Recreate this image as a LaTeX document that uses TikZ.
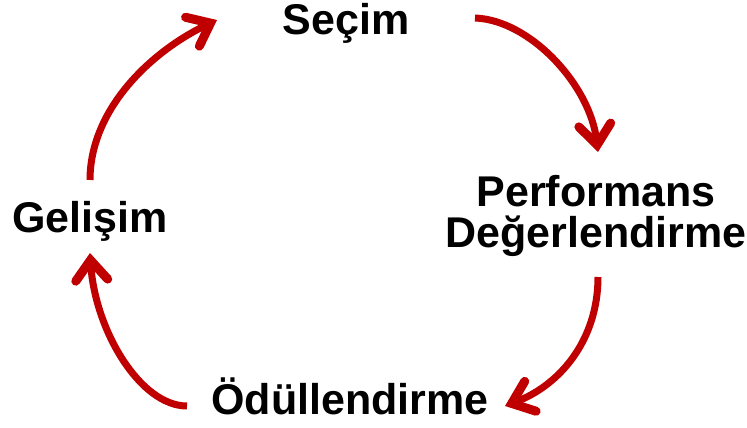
\documentclass[tikz,border=0pt]{standalone}
\usepackage{fontspec}
\setmainfont{Liberation Sans}
\usetikzlibrary{arrows.meta}
\definecolor{cycred}{HTML}{C00000}
\begin{document}
\begin{tikzpicture}[x=1pt,y=1pt,
  lbl/.style={font=\fontsize{43}{41}\selectfont\bfseries, inner sep=0pt, align=center},
  cycarrow/.style={draw=cycred, line width=7pt,
    -{Straight Barb[length=20pt,width=32pt,line width=9pt,line cap=round,line join=miter]}}]
\useasboundingbox (0,0) rectangle (747,428);
\node[lbl,anchor=base] (sec) at (346,393) {Seçim};
\node[lbl] (perf) at (596,212) {Performans\\Değerlendirme};
\node[lbl,anchor=base] (odul) at (350,13) {Ödüllendirme};
\node[lbl,anchor=base] (gel) at (90,195) {Gelişim};
\coordinate (a1s) at (90,248);  \coordinate (a1e) at (217,408);
\coordinate (a2s) at (475,410); \coordinate (a2e) at (598,276);
\coordinate (a3s) at (598,151); \coordinate (a3e) at (505,22);
\coordinate (a4s) at (187,22);  \coordinate (a4e) at (90,175);
\draw[cycarrow] (a1s) .. controls (90,318) and (150,376) .. (a1e);
\draw[cycarrow] (a2s) .. controls (530,408) and (590,343) .. (a2e);
\draw[cycarrow] (a3s) .. controls (598,88) and (560,43) .. (a3e);
\draw[cycarrow] (a4s) .. controls (140,22) and (95,98) .. (a4e);
\end{tikzpicture}
\end{document}
